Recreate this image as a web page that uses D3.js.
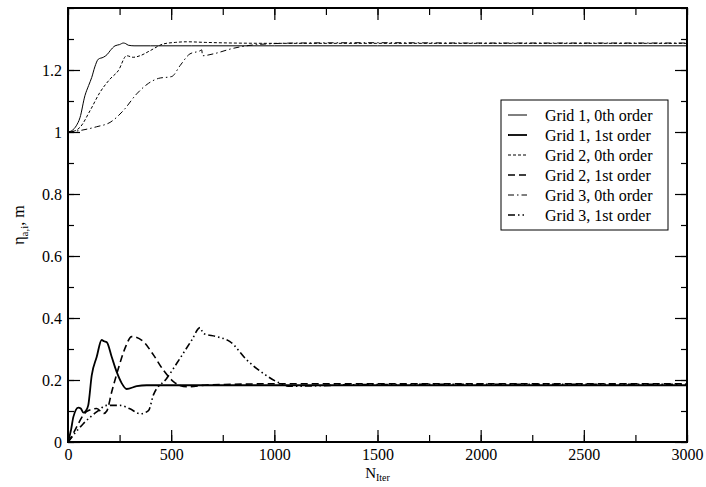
<!DOCTYPE html>
<html>
<head>
<meta charset="utf-8">
<script src="https://cdn.jsdelivr.net/npm/d3@7"></script>
<style>
  body { margin: 0; background: #fff; }
  svg text { font-family: "Liberation Serif", "Times New Roman", "DejaVu Serif", serif; fill: #000; }
</style>
</head>
<body>
<div id="chart"></div>
<script>
var margin = { top: 8, right: 19, bottom: 45, left: 68 },
    width = 706 - margin.left - margin.right,
    height = 487 - margin.top - margin.bottom;
var serif = "Liberation Serif, Times New Roman, serif";

// series: iteration number and value
var g1o0N = [0, 20, 40, 58, 82, 100, 115, 130, 147, 171, 190, 204, 228, 250, 268, 280, 292, 320, 400, 600, 1000, 1500, 2000, 2500, 3000],
    g1o0V = [1.0, 1.005, 1.02, 1.046, 1.117, 1.15, 1.176, 1.21, 1.235, 1.241, 1.25, 1.262, 1.278, 1.282, 1.287, 1.285, 1.280, 1.278, 1.278, 1.278, 1.278, 1.278, 1.278, 1.278, 1.278];
var g1o1N = [0, 15, 26, 50, 62, 74, 86, 98, 115, 139, 163, 175, 188, 212, 236, 260, 284, 333, 381, 500, 1000, 2000, 3000],
    g1o1V = [0, 0.04, 0.081, 0.111, 0.108, 0.095, 0.1, 0.118, 0.215, 0.274, 0.329, 0.325, 0.322, 0.274, 0.226, 0.19, 0.171, 0.18, 0.183, 0.183, 0.183, 0.183, 0.183];
var g2o0N = [0, 30, 58, 107, 155, 204, 244, 284, 316, 349, 397, 462, 520, 575, 668, 800, 1000, 1500, 2000, 2500, 3000],
    g2o0V = [1.0, 1.003, 1.015, 1.069, 1.128, 1.171, 1.198, 1.246, 1.241, 1.246, 1.262, 1.284, 1.289, 1.291, 1.289, 1.287, 1.286, 1.286, 1.286, 1.286, 1.286];
var g2o1N = [0, 20, 42, 90, 139, 173, 188, 212, 244, 276, 309, 365, 414, 462, 511, 575, 672, 800, 1000, 2000, 3000],
    g2o1V = [0, 0.02, 0.049, 0.098, 0.108, 0.092, 0.1, 0.162, 0.237, 0.302, 0.34, 0.324, 0.281, 0.232, 0.195, 0.178, 0.184, 0.186, 0.188, 0.188, 0.188];
var g3o0N = [0, 60, 139, 204, 268, 333, 390, 439, 503, 543, 591, 640, 648, 652, 704, 801, 914, 963, 1100, 1500, 2000, 2500, 3000],
    g3o0V = [1.0, 1.005, 1.017, 1.031, 1.069, 1.123, 1.157, 1.173, 1.179, 1.214, 1.252, 1.262, 1.265, 1.246, 1.252, 1.27, 1.282, 1.284, 1.287, 1.288, 1.287, 1.287, 1.287];
var g3o1N = [0, 74, 139, 188, 252, 300, 349, 390, 414, 478, 543, 600, 640, 648, 656, 720, 785, 866, 947, 1010, 1076, 1188, 1400, 2000, 3000],
    g3o1V = [0, 0.059, 0.097, 0.118, 0.118, 0.107, 0.091, 0.101, 0.152, 0.205, 0.27, 0.329, 0.369, 0.36, 0.35, 0.34, 0.324, 0.265, 0.221, 0.195, 0.18, 0.181, 0.185, 0.186, 0.186];

var names = ["Grid 1, 0th order", "Grid 1, 1st order", "Grid 2, 0th order",
             "Grid 2, 1st order", "Grid 3, 0th order", "Grid 3, 1st order"];
var seriesN = [g1o0N, g1o1N, g2o0N, g2o1N, g3o0N, g3o1N],
    seriesV = [g1o0V, g1o1V, g2o0V, g2o1V, g3o0V, g3o1V];

var xTicks = [0, 500, 1000, 1500, 2000, 2500, 3000],
    yTicks = [0, 0.2, 0.4, 0.6, 0.8, 1, 1.2];

var widths = [1, 1.8, 1, 1.6, 1, 1.6],
    dashes = [null, null, "3,2", "7,4", "6,3,1.5,3", "7,3,1.5,3,1.5,3"];

var svg = d3.select("#chart").append("svg")
    .attr("width", width + margin.left + margin.right)
    .attr("height", height + margin.top + margin.bottom)
    .append("g")
    .attr("transform", "translate(" + margin.left + "," + margin.top + ")");

var x = d3.scaleLinear().domain([0, 3000]).range([0, width]);
var y = d3.scaleLinear().domain([0, 1.4]).range([height, 0]);

// ticks on all four sides, pointing in
var xMinor = d3.range(0, 3001, 250), yMinor = d3.range(0, 1.41, 0.1);

svg.append("g").attr("transform", "translate(0," + height + ")")
    .call(d3.axisBottom(x).tickValues(xMinor).tickSize(-7).tickFormat(""));
svg.append("g").attr("transform", "translate(0," + height + ")")
    .call(d3.axisBottom(x).tickValues(xTicks).tickSize(-12).tickPadding(7).tickFormat(d3.format("d")));
svg.append("g")
    .call(d3.axisTop(x).tickValues(xMinor).tickSize(-7).tickFormat(""));
svg.append("g")
    .call(d3.axisTop(x).tickValues(xTicks).tickSize(-12).tickFormat(""));
svg.append("g")
    .call(d3.axisLeft(y).tickValues(yMinor).tickSize(-6).tickFormat(""));
svg.append("g")
    .call(d3.axisLeft(y).tickValues(yTicks).tickSize(-12).tickPadding(6).tickFormat(function(d) { return String(+d.toFixed(1)); }));
svg.append("g").attr("transform", "translate(" + width + ",0)")
    .call(d3.axisRight(y).tickValues(yMinor).tickSize(-6).tickFormat(""));
svg.append("g").attr("transform", "translate(" + width + ",0)")
    .call(d3.axisRight(y).tickValues(yTicks).tickSize(-12).tickFormat(""));

svg.selectAll(".domain").remove();
svg.selectAll("g").attr("font-family", serif);
svg.selectAll(".tick line").attr("stroke", "#000").attr("stroke-width", 1.2);
svg.selectAll(".tick text").style("font-size", "16px").attr("fill", "#000");

svg.append("rect")
    .attr("width", width).attr("height", height)
    .attr("fill", "none").attr("stroke", "#000").attr("stroke-width", 2);

var line = d3.line()
    .x(function(d) { return x(d[0]); })
    .y(function(d) { return y(d[1]); })
    .curve(d3.curveMonotoneX);

seriesN.forEach(function(ns, i) {
    var pts = ns.map(function(n, j) { return [n, seriesV[i][j]]; });
    svg.append("path")
        .datum(pts)
        .attr("d", line)
        .attr("fill", "none")
        .attr("stroke", "#000")
        .attr("stroke-width", widths[i])
        .attr("stroke-dasharray", dashes[i]);
});

// legend
var lg = svg.append("g").attr("transform", "translate(" + (501 - margin.left) + "," + (100 - margin.top) + ")");
lg.append("rect").attr("width", 167).attr("height", 130)
    .attr("fill", "#fff").attr("stroke", "#000").attr("stroke-width", 1);
names.forEach(function(nm, i) {
    var yy = 15 + i * 20;
    lg.append("line").attr("x1", 7).attr("x2", 26).attr("y1", yy).attr("y2", yy)
        .attr("stroke", "#000").attr("stroke-width", widths[i]).attr("stroke-dasharray", dashes[i]);
    lg.append("text").attr("x", 44).attr("y", yy).attr("dy", "0.35em")
        .attr("font-family", serif)
        .style("font-size", "16px").text(nm);
});

// axis titles
var yl = svg.append("text")
    .attr("transform", "translate(" + (24 - margin.left) + "," + (height / 2) + ") rotate(-90)")
    .attr("text-anchor", "middle")
    .attr("font-family", serif)
    .style("font-size", "16px");
yl.append("tspan").text("η");
yl.append("tspan").attr("dy", 4).style("font-size", "11px").text("a,i");
yl.append("tspan").attr("dy", -4).text(", m");

var xl = svg.append("text")
    .attr("x", width / 2).attr("y", height + 36)
    .attr("text-anchor", "middle")
    .attr("font-family", serif)
    .style("font-size", "15px");
xl.append("tspan").text("N");
xl.append("tspan").attr("dy", 3).style("font-size", "10px").text("Iter");
</script>
</body>
</html>
